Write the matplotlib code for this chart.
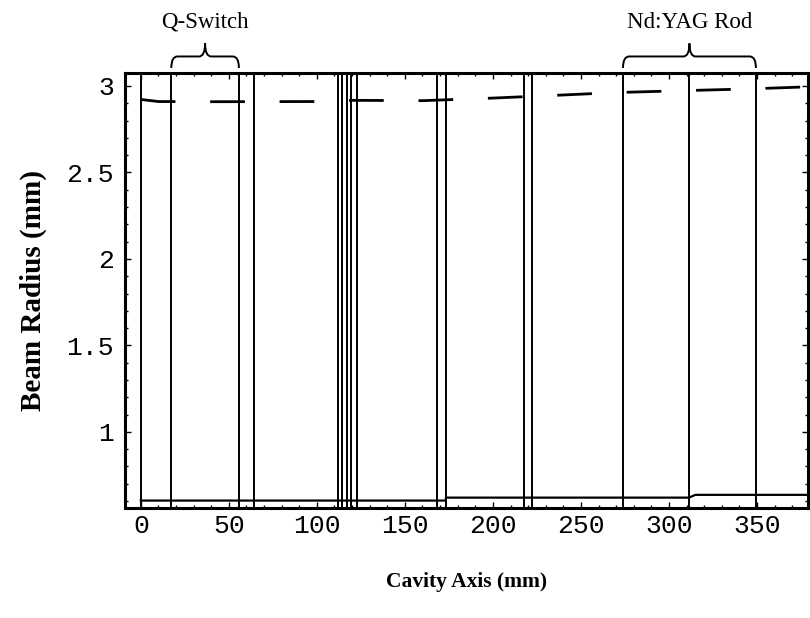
import matplotlib

matplotlib.use("Agg")
import matplotlib.pyplot as plt
from matplotlib.patches import PathPatch
from matplotlib.path import Path
from matplotlib.ticker import MultipleLocator
from matplotlib.transforms import blended_transform_factory

# Optical element boundaries along the cavity (mm)
element_z = [0, 17.3, 55.7, 64.2, 112, 114.5, 117, 119.5, 122.7,
             168, 173.3, 217.6, 222.2, 273.9, 311.4, 349.4]

# Beam radius along the cavity: large mode (dashed) and small mode (solid)
z_upper = [0, 10, 40, 100, 120, 160, 200, 240, 270, 305, 345, 379]
r_upper = [2.922, 2.91, 2.909, 2.91, 2.917, 2.915, 2.93, 2.948, 2.962, 2.972, 2.983, 2.995]

z_lower = [0, 173.3, 173.3, 311.4, 315, 379]
r_lower = [0.603, 0.603, 0.62, 0.62, 0.636, 0.636]

# Bracketed components (label, start, end in mm)
components = [("Q-Switch", 17.3, 55.7), ("Nd:YAG Rod", 273.9, 349.4)]

x_range = (-9, 379)
y_range = (0.56, 3.075)

fig = plt.figure(figsize=(8.1, 6.18), dpi=100)
ax = fig.add_axes([125 / 810, 110 / 618, 683 / 810, 435 / 618])

for z in element_z:
    ax.axvline(z, color="black", linewidth=1.4)

upper, = ax.plot(z_upper, r_upper, color="black", linewidth=2.0)
upper.set_dashes((12.5, 12.5))
ax.plot(z_lower, r_lower, color="black", linewidth=1.6)

ax.set_xlim(*x_range)
ax.set_ylim(*y_range)

ax.xaxis.set_major_locator(MultipleLocator(50))
ax.xaxis.set_minor_locator(MultipleLocator(10))
ax.yaxis.set_major_locator(MultipleLocator(0.5))
ax.yaxis.set_minor_locator(MultipleLocator(0.1))
ax.yaxis.set_major_formatter(lambda v, pos: f"{v:g}")

ax.tick_params(which="both", direction="in", top=True, right=True, width=1.0)
ax.tick_params(which="major", length=4.5)
ax.tick_params(which="minor", length=2.2)
ax.tick_params(axis="x", pad=4)
ax.tick_params(axis="y", pad=8)
for lab in ax.get_xticklabels() + ax.get_yticklabels():
    lab.set_fontfamily("Liberation Mono")
    lab.set_fontsize(19)

for s in ax.spines.values():
    s.set_linewidth(2.2)

ax.set_xlabel("Cavity Axis (mm)", fontfamily="Liberation Serif", fontweight="bold",
              fontsize=15.5, labelpad=25)
ax.set_ylabel("Beam Radius (mm)", fontfamily="Liberation Serif", fontweight="bold",
              fontsize=21, labelpad=14)

# Curly braces over the components, x in data units, y in axes units
trans = blended_transform_factory(ax.transData, ax.transAxes)
y_tip, y_bar, y_peak = 1.0115, 1.038, 1.068
for label, z0, z1 in components:
    zm = (z0 + z1) / 2
    d = 3.5
    verts = [
        (z0, y_tip), (z0, y_bar), (z0 + d, y_bar),
        (zm - d, y_bar),
        (zm, y_bar), (zm, y_peak),
        (zm, y_bar), (zm + d, y_bar),
        (z1 - d, y_bar),
        (z1, y_bar), (z1, y_tip),
    ]
    codes = [Path.MOVETO, Path.CURVE3, Path.CURVE3, Path.LINETO,
             Path.CURVE3, Path.CURVE3, Path.CURVE3, Path.CURVE3,
             Path.LINETO, Path.CURVE3, Path.CURVE3]
    ax.add_patch(PathPatch(Path(verts, codes), facecolor="none", edgecolor="black",
                           linewidth=1.4, transform=trans, clip_on=False))
    ax.text(zm, 1.117, label, transform=trans, ha="center", va="center",
            fontfamily="Liberation Serif", fontsize=16.5)

fig.savefig("out.png", dpi=100)
